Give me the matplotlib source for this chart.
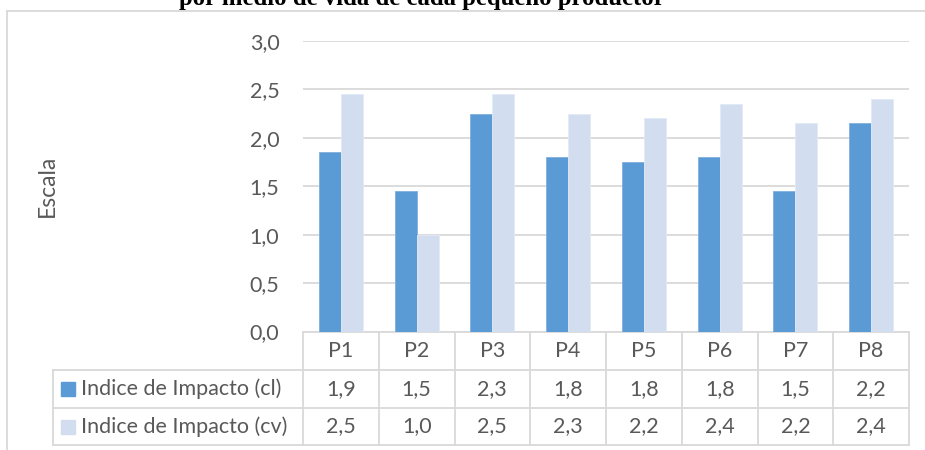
from decimal import Decimal, ROUND_HALF_UP

import matplotlib
matplotlib.use("Agg")
import matplotlib.pyplot as plt
import matplotlib.transforms as mtransforms
import numpy as np

productores = ["P1", "P2", "P3", "P4", "P5", "P6", "P7", "P8"]
impacto_cl = [1.85, 1.45, 2.25, 1.80, 1.75, 1.80, 1.45, 2.15]
impacto_cv = [2.45, 1.00, 2.45, 2.25, 2.20, 2.35, 2.15, 2.40]
series = ["Indice de Impacto (cl)", "Indice de Impacto (cv)"]
yticks = [0.0, 0.5, 1.0, 1.5, 2.0, 2.5, 3.0]

azul = "#5B9BD5"
azul_claro = "#D2DEEF"
gris_linea = "#D9D9D9"
gris_texto = "#595959"
fs = 15.5


def coma(v):
    # redondeo a un decimal con coma, como en la tabla de datos
    d = Decimal(str(v)).quantize(Decimal("0.1"), rounding=ROUND_HALF_UP)
    return str(d).replace(".", ",")


plt.rcParams["font.family"] = ["Lato", "DejaVu Sans"]

W, H = 925, 450
fig = plt.figure(figsize=(W / 100, H / 100), dpi=100)

# area de trazado en pixeles
x0, x1 = 303, 909
y_top, y_bot = 41, 331.5
ax = fig.add_axes([x0 / W, 1 - y_bot / H, (x1 - x0) / W, (y_bot - y_top) / H])

x = np.arange(len(productores))
ancho = 0.29
ax.bar(x - ancho / 2, impacto_cl, ancho, color=azul, edgecolor="#7FB0DE",
       linewidth=0.6, zorder=3)
ax.bar(x + ancho / 2, impacto_cv, ancho, color=azul_claro, edgecolor="#E2EAF6",
       linewidth=0.6, zorder=3)

ax.set_xlim(-0.5, len(productores) - 0.5)
ax.set_ylim(0, 3.0)
ax.set_yticks(yticks)
ax.set_yticklabels([coma(t) for t in yticks], fontsize=fs, color=gris_texto)
ax.set_xticks([])
ax.tick_params(axis="y", length=0, pad=17)
ax.grid(axis="y", color=gris_linea, linewidth=1.3, zorder=0)
for s in ax.spines.values():
    s.set_visible(False)

ax.set_ylabel("Escala", fontsize=16.5, color=gris_texto)
ax.yaxis.set_label_coords((58 - x0) / (x1 - x0), 0.5)

# tabla de datos bajo el eje
trans = mtransforms.blended_transform_factory(ax.transData, ax.transAxes)
alto_px = y_bot - y_top
filas_px = [332, 370, 408, 445]
filas = [(y_bot - p) / alto_px for p in filas_px]
ancho_cat = (x1 - x0) / len(productores)
x_izq = -0.5 - (x0 - 53) / ancho_cat
lk = dict(color=gris_linea, linewidth=1.3, transform=trans, clip_on=False)

ax.plot([-0.5, len(productores) - 0.5], [filas[0], filas[0]], **lk)
for f in filas[1:]:
    ax.plot([x_izq, len(productores) - 0.5], [f, f], **lk)
for b in np.arange(len(productores) + 1) - 0.5:
    ax.plot([b, b], [filas[0], filas[3]], **lk)
ax.plot([x_izq, x_izq], [filas[1], filas[3]], **lk)

tk = dict(fontsize=fs, color=gris_texto, ha="center", va="center",
          transform=trans, clip_on=False)
centros = [(filas[i] + filas[i + 1]) / 2 for i in range(3)]
for i, p in enumerate(productores):
    ax.text(i, centros[0], p, **tk)
    ax.text(i, centros[1], coma(impacto_cl[i]), **tk)
    ax.text(i, centros[2], coma(impacto_cv[i]), **tk)

x_marca = -0.5 - (x0 - 68) / ancho_cat
x_texto = -0.5 - (x0 - 81) / ancho_cat
for fila, nombre, color in zip(centros[1:], series, [azul, azul_claro]):
    ax.plot([x_marca], [fila], marker="s", markersize=9.5, color=color,
            linestyle="none", transform=trans, clip_on=False)
    ax.text(x_texto, fila, nombre, fontsize=fs, color=gris_texto, ha="left",
            va="center", transform=trans, clip_on=False)

# borde del area del grafico
fig.add_artist(plt.Line2D([7 / W, 1], [1 - 11 / H, 1 - 11 / H],
                          color=gris_linea, linewidth=1.3))
fig.add_artist(plt.Line2D([7 / W, 7 / W], [0, 1 - 11 / H],
                          color=gris_linea, linewidth=1.3))

# titulo (solo asoma su parte inferior)
fig.text(422 / W, 1 - 5 / H, "por medio de vida de cada pequeño productor",
         fontsize=17.8, fontweight="bold", family="Liberation Serif",
         ha="center", va="baseline", color="black")

fig.savefig("out.png", dpi=100, facecolor="white")
